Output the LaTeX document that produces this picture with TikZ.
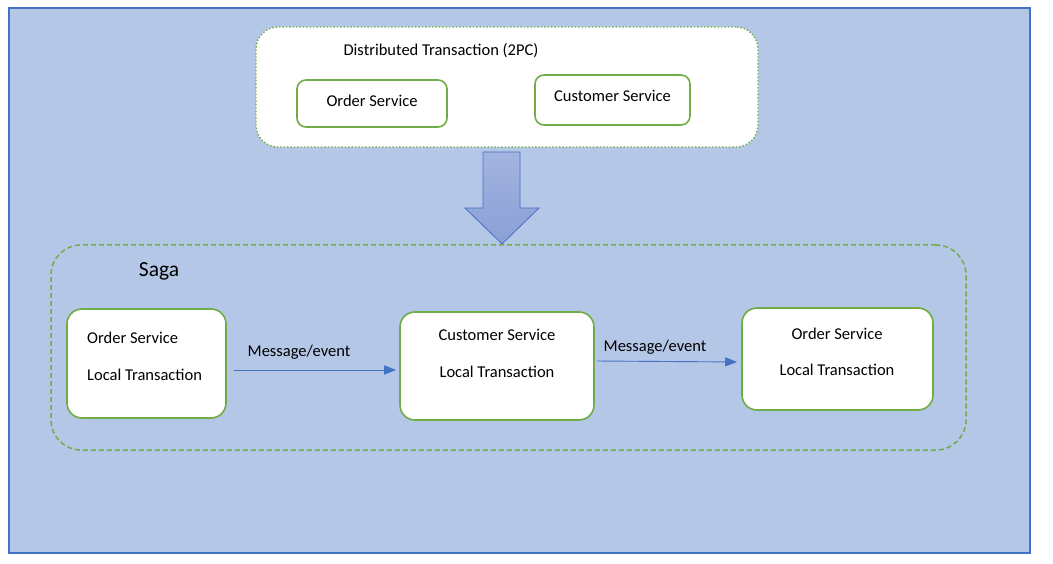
\documentclass[tikz,border=0pt]{standalone}
\usepackage{fontspec}
\setmainfont{Carlito}
\usetikzlibrary{arrows.meta}
\definecolor{paneblue}{HTML}{B4C7E7}
\definecolor{edgeblue}{HTML}{4472C4}
\definecolor{boxgreen}{HTML}{70AD47}
\definecolor{arrowtop}{HTML}{A4B4E0}
\definecolor{arrowbot}{HTML}{8A9FD6}

\begin{document}
\begin{tikzpicture}[x=1pt,y=-1pt,
  txt/.style={inner sep=0pt,font=\fontsize{16.5}{20}\selectfont},
  svcbox/.style={draw=boxgreen,line width=1.6pt,fill=white,rounded corners=9pt},
  ltbox/.style={draw=boxgreen,line width=1.6pt,fill=white,rounded corners=15pt},
  flow/.style={draw=edgeblue,line width=0.9pt,-{Triangle[length=12pt,width=9pt]}}]
\useasboundingbox (0,0) rectangle (1053,564);
\fill[white] (0,0) rectangle (1053,564);
\draw[fill=paneblue,draw=edgeblue,line width=1.2pt] (9,8) rectangle (1030,553);

% two phase commit
\node[draw=boxgreen,line width=1.4pt,dotted,fill=white,rounded corners=22pt,
  minimum width=502pt,minimum height=120pt] (tpc) at (507,87) {};
\node[txt] (tpctitle) at (441,51) {Distributed Transaction (2PC)};
\node[svcbox,minimum width=150pt,minimum height=47pt] (order) at (372,103.5) {};
\node[txt] (ordertxt) at (372,101) {Order Service};
\node[svcbox,minimum width=155pt,minimum height=50pt] (customer) at (612.5,100) {};
\node[txt] (customertxt) at (612.5,96) {Customer Service};

% big arrow
\draw[draw=edgeblue,line width=0.8pt,top color=arrowtop,bottom color=arrowbot]
  (483,152)--(520,152)--(520,208)--(539,208)--(502,244)--(465,208)--(483,208)--cycle;

% saga
\node[draw=boxgreen,line width=1.5pt,dash pattern=on 5pt off 3pt,rounded corners=30pt,
  minimum width=915pt,minimum height=205pt] (saga) at (508.5,347.5) {};
\node[txt,font=\fontsize{21.5}{25}\selectfont] (sagatxt) at (159,271) {Saga};

\node[ltbox,minimum width=159pt,minimum height=109pt] (b1) at (146.5,363.5) {};
\node[txt,anchor=west] (b1a) at (87,338) {Order Service};
\node[txt,anchor=west] (b1b) at (87,375) {Local Transaction};

\node[ltbox,minimum width=194pt,minimum height=108pt] (b2) at (497,366) {};
\node[txt] (b2a) at (497,335) {Customer Service};
\node[txt] (b2b) at (497,372) {Local Transaction};

\node[ltbox,minimum width=191pt,minimum height=102pt] (b3) at (837.5,359) {};
\node[txt] (b3a) at (837,334) {Order Service};
\node[txt] (b3b) at (837,370) {Local Transaction};

\draw[flow,shorten <=7pt,shorten >=3pt] (b1.east |- 0,370) -- (b2.west |- 0,370);
\node[txt] (m1) at (299,352) {Message/event};
\draw[flow,shorten <=2pt,shorten >=4pt] (b2.east |- 0,361) -- (b3.west |- 0,362);
\node[txt] (m2) at (655,347) {Message/event};
\end{tikzpicture}
\end{document}
